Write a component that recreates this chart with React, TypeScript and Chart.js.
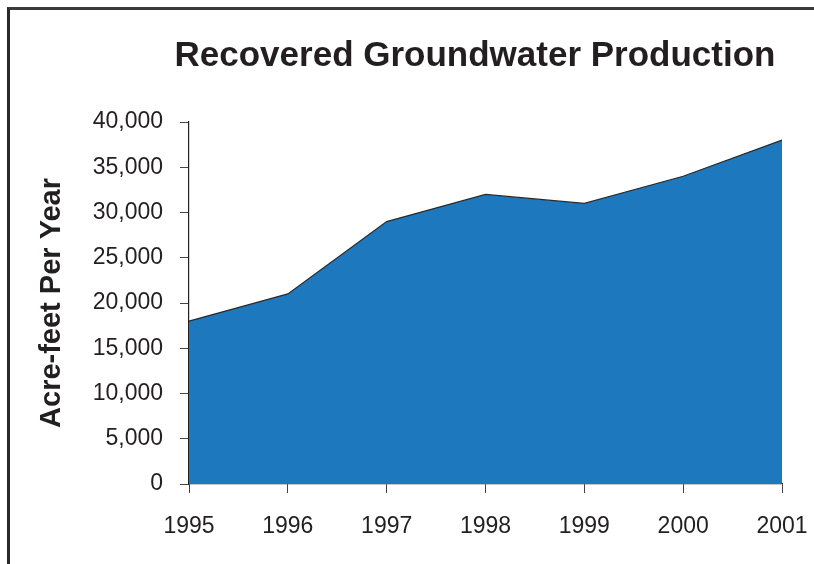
import React, { useEffect, useRef } from "react";
import { Chart, registerables } from "chart.js";

Chart.register(...registerables);

const years: string[] = ["1995", "1996", "1997", "1998", "1999", "2000", "2001"];
const production: number[] = [18000, 21000, 29000, 32000, 31000, 34000, 38000];
const chartTitle = "Recovered Groundwater Production";
const yAxisTitle = "Acre-feet Per Year";

const TEXT = "#231f20";
const SANS = "'Liberation Sans', Arial, sans-serif";

const titlePlugin = {
  id: "customTitle",
  afterDraw(chart: any) {
    const ctx = chart.ctx;
    ctx.save();
    ctx.font = `bold 35px ${SANS}`;
    ctx.fillStyle = TEXT;
    ctx.textAlign = "center";
    ctx.textBaseline = "middle";
    ctx.fillText(chartTitle, 475, 56);
    ctx.restore();
  },
};

export default function App() {
  const ref = useRef<HTMLCanvasElement | null>(null);

  useEffect(() => {
    if (!ref.current) return;
    const chart = new Chart(ref.current, {
      type: "line",
      data: {
        labels: years,
        datasets: [
          {
            data: production,
            fill: "origin",
            backgroundColor: "#1e78be",
            borderColor: "#2a2a2a",
            borderWidth: 1.2,
            pointRadius: 0,
            tension: 0,
          },
        ],
      },
      options: {
        animation: false,
        responsive: false,
        devicePixelRatio: 1,
        layout: { padding: { left: 0, right: 32, top: 122, bottom: 0 } },
        plugins: {
          legend: { display: false },
          title: { display: false },
          tooltip: { enabled: false },
        },
        scales: {
          x: {
            offset: false,
            grid: {
              drawOnChartArea: false,
              drawTicks: true,
              tickLength: 9,
              color: "#444",
              lineWidth: 1,
            },
            border: { display: true, color: "#222", width: 1.2 },
            ticks: {
              color: TEXT,
              padding: 20,
              font: { family: SANS, size: 23 },
              maxRotation: 0,
              autoSkip: false,
            },
            afterFit(scale: any) {
              scale.height = 80;
              scale.paddingLeft = 0;
              scale.paddingRight = 0;
            },
          },
          y: {
            min: 0,
            max: 40000,
            ticks: {
              stepSize: 5000,
              color: TEXT,
              padding: 17,
              font: { family: SANS, size: 23 },
              callback: (v: any) => Number(v).toLocaleString("en-US"),
            },
            grid: {
              drawOnChartArea: false,
              drawTicks: true,
              tickLength: 9,
              color: "#444",
              lineWidth: 1,
            },
            border: { display: true, color: "#222", width: 1.2 },
            title: {
              display: true,
              text: yAxisTitle,
              color: TEXT,
              font: { family: SANS, size: 29, weight: "bold" },
              padding: { top: 35, bottom: 0 },
            },
            afterFit(scale: any) {
              scale.width = 189;
              scale.paddingTop = 0;
              scale.paddingBottom = 0;
            },
          },
        },
      },
      plugins: [titlePlugin],
    });
    return () => chart.destroy();
  }, []);

  return (
    <div style={{ position: "fixed", left: 0, top: 0, width: 814, height: 564, background: "#fff" }}>
      <canvas ref={ref} width={814} height={564} style={{ position: "absolute", left: 0, top: 0 }} />
      <div
        style={{
          position: "absolute",
          left: 7,
          top: 7,
          width: 807,
          height: 557,
          borderLeft: "3px solid #2a2a2a",
          borderTop: "3px solid #3a3a3a",
          boxSizing: "border-box",
        }}
      />
    </div>
  );
}
